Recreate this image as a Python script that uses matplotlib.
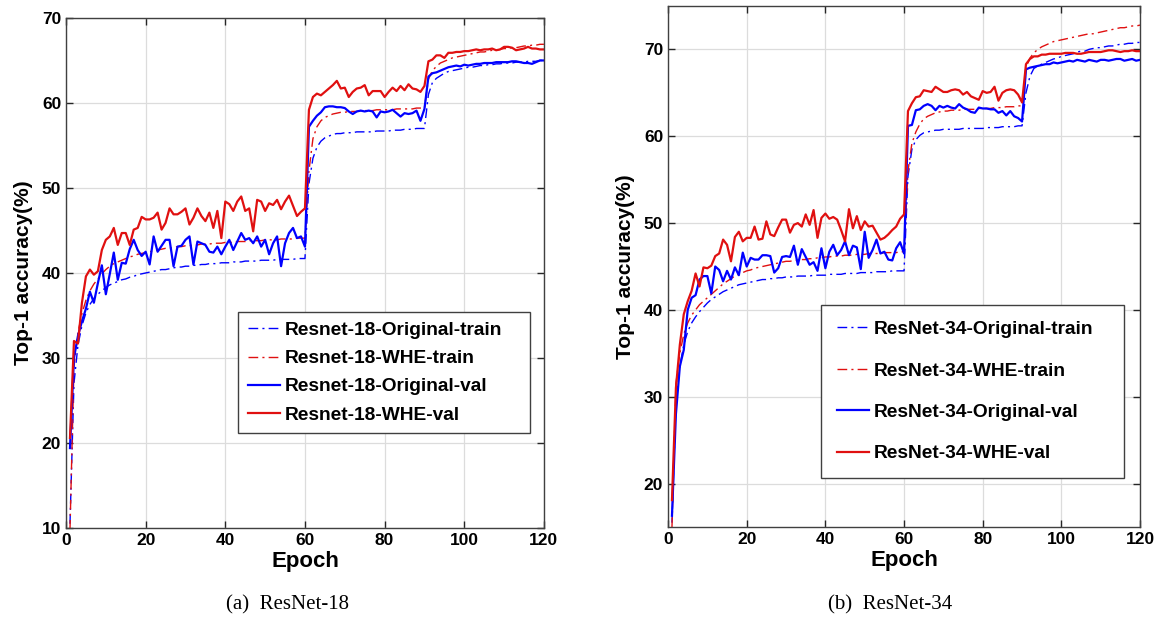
import matplotlib
matplotlib.use("Agg")
from matplotlib import pyplot as plt
import numpy as np

epochs = np.arange(1, 121)

# ---- ResNet-18 ----
r18_orig_train = [
    10.5, 27.0, 31.5, 33.8, 35.3, 36.3, 37.0, 37.5, 37.9, 38.3,
    38.6, 38.8, 39.0, 39.2, 39.3, 39.5, 39.6, 39.8, 39.9, 40.0,
    40.1, 40.2, 40.3, 40.4, 40.4, 40.5, 40.6, 40.7, 40.7, 40.8,
    40.8, 40.9, 40.9, 41.0, 41.0, 41.1, 41.1, 41.1, 41.2, 41.2,
    41.2, 41.3, 41.3, 41.3, 41.4, 41.4, 41.4, 41.4, 41.5, 41.5,
    41.5, 41.5, 41.6, 41.6, 41.6, 41.6, 41.6, 41.7, 41.7, 41.7,
    50.5, 53.5, 54.8, 55.5, 55.9, 56.1, 56.3, 56.4, 56.4, 56.5,
    56.5, 56.5, 56.6, 56.6, 56.6, 56.6, 56.6, 56.7, 56.7, 56.7,
    56.7, 56.8, 56.8, 56.8, 56.9, 56.9, 56.9, 57.0, 57.0, 57.0,
    61.0, 62.4, 62.9, 63.2, 63.5, 63.7, 63.8, 63.9, 64.0, 64.1,
    64.2, 64.2, 64.3, 64.4, 64.4, 64.5, 64.5, 64.6, 64.6, 64.7,
    64.7, 64.7, 64.8, 64.8, 64.8, 64.9, 64.9, 64.9, 65.0, 65.0]

r18_whe_train = [
    9.8, 29.0, 33.0, 35.2, 36.8, 37.9, 38.7, 39.3, 39.9, 40.4,
    40.8, 41.1, 41.3, 41.5, 41.7, 41.9, 42.0, 42.2, 42.3, 42.4,
    42.5, 42.6, 42.7, 42.8, 42.9, 42.9, 43.0, 43.1, 43.1, 43.2,
    43.2, 43.3, 43.3, 43.4, 43.4, 43.4, 43.5, 43.5, 43.5, 43.6,
    43.6, 43.6, 43.7, 43.7, 43.7, 43.8, 43.8, 43.8, 43.8, 43.9,
    43.9, 43.9, 43.9, 44.0, 44.0, 44.0, 44.0, 44.1, 44.1, 44.1,
    52.0, 55.8, 57.2, 57.9, 58.3, 58.5, 58.7, 58.8, 58.9, 58.9,
    59.0, 59.0, 59.0, 59.1, 59.1, 59.1, 59.1, 59.2, 59.2, 59.2,
    59.2, 59.2, 59.3, 59.3, 59.3, 59.3, 59.3, 59.4, 59.4, 59.4,
    62.8, 63.8, 64.3, 64.7, 64.9, 65.1, 65.3, 65.4, 65.5, 65.6,
    65.7, 65.8, 65.9, 66.0, 66.0, 66.1, 66.2, 66.2, 66.3, 66.4,
    66.4, 66.5, 66.5, 66.6, 66.7, 66.7, 66.8, 66.8, 66.9, 66.9]

r18_orig_val = [
    19.4, 30.0, 32.6, 34.3, 35.8, 37.8, 36.5, 38.8, 40.9, 37.5,
    39.9, 42.4, 39.2, 41.2, 41.1, 42.8, 43.9, 42.7, 42.0, 42.5,
    41.0, 44.3, 42.5, 43.2, 43.9, 43.9, 40.8, 43.1, 43.2, 43.9,
    44.3, 41.0, 43.7, 43.5, 43.3, 42.5, 42.4, 43.1, 42.2, 43.1,
    43.9, 42.7, 43.7, 44.7, 43.9, 44.1, 43.5, 44.3, 43.1, 43.9,
    42.2, 43.5, 44.3, 40.8, 43.5, 44.7, 45.3, 44.1, 44.3, 43.1,
    57.2, 57.9, 58.5, 58.9, 59.5, 59.6, 59.6, 59.5, 59.5, 59.4,
    59.0, 58.7, 59.0, 59.1, 59.0, 59.1, 59.0, 58.3, 59.0, 58.9,
    59.0, 59.2, 58.8, 58.4, 58.8, 58.7, 58.8, 59.1, 57.9, 59.3,
    63.1, 63.5, 63.6, 63.8, 64.0, 64.2, 64.3, 64.4, 64.3, 64.5,
    64.4, 64.5, 64.6, 64.6, 64.7, 64.7, 64.7, 64.8, 64.8, 64.8,
    64.8, 64.9, 64.9, 64.8, 64.7, 64.7, 64.6, 64.8, 65.0, 65.0]

r18_whe_val = [
    20.6, 32.0, 31.7, 36.5, 39.6, 40.4, 39.8, 40.2, 42.7, 43.9,
    44.3, 45.3, 43.3, 44.7, 44.7, 43.3, 45.1, 45.3, 46.6, 46.3,
    46.3, 46.5, 47.1, 45.1, 45.9, 47.6, 46.9, 46.9, 47.2, 47.6,
    45.7, 46.5, 47.6, 46.7, 46.1, 47.1, 45.3, 47.3, 44.1, 48.4,
    48.1, 47.3, 48.4, 49.0, 47.3, 47.6, 44.9, 48.6, 48.4, 47.3,
    48.2, 48.0, 48.6, 47.5, 48.4, 49.1, 47.9, 46.7, 47.2, 47.6,
    59.2, 60.7, 61.1, 60.9, 61.3, 61.7, 62.1, 62.6, 61.7, 61.8,
    60.7, 61.3, 61.7, 61.8, 62.1, 60.9, 61.4, 61.4, 61.4, 60.7,
    61.3, 61.8, 61.4, 62.0, 61.5, 62.2, 61.7, 61.6, 61.3, 62.0,
    64.9, 65.1, 65.6, 65.6, 65.3, 65.9, 65.9, 66.0, 66.0, 66.1,
    66.1, 66.2, 66.3, 66.2, 66.3, 66.3, 66.4, 66.2, 66.3, 66.6,
    66.6, 66.5, 66.2, 66.3, 66.4, 66.6, 66.4, 66.4, 66.3, 66.3]

# ---- ResNet-34 ----
r34_orig_train = [
    15.5, 29.2, 33.5, 36.0, 37.5, 38.5, 39.2, 39.8, 40.3, 40.8,
    41.2, 41.5, 41.8, 42.1, 42.3, 42.5, 42.7, 42.9, 43.0, 43.1,
    43.2, 43.3, 43.4, 43.5, 43.5, 43.6, 43.6, 43.7, 43.7, 43.8,
    43.8, 43.8, 43.9, 43.9, 43.9, 43.9, 44.0, 44.0, 44.0, 44.0,
    44.1, 44.1, 44.1, 44.1, 44.2, 44.2, 44.2, 44.2, 44.3, 44.3,
    44.3, 44.3, 44.4, 44.4, 44.4, 44.4, 44.5, 44.5, 44.5, 44.5,
    55.4, 58.5, 59.6, 60.1, 60.4, 60.5, 60.6, 60.7, 60.7, 60.8,
    60.8, 60.8, 60.8, 60.8, 60.9, 60.9, 60.9, 60.9, 60.9, 60.9,
    61.0, 61.0, 61.0, 61.0, 61.1, 61.1, 61.1, 61.1, 61.2, 61.2,
    65.0, 66.9, 67.8, 68.1, 68.3, 68.5, 68.7, 68.9, 69.0, 69.2,
    69.3, 69.4, 69.5, 69.7, 69.8, 69.8, 70.0, 70.1, 70.2, 70.2,
    70.3, 70.4, 70.4, 70.5, 70.6, 70.6, 70.7, 70.7, 70.8, 70.8]

r34_whe_train = [
    15.0, 31.5, 35.0, 37.2, 38.5, 39.4, 40.0, 40.6, 41.0, 41.4,
    41.8, 42.2, 42.6, 43.0, 43.3, 43.6, 43.9, 44.1, 44.3, 44.5,
    44.6, 44.8, 44.9, 45.0, 45.1, 45.2, 45.3, 45.4, 45.5, 45.6,
    45.6, 45.7, 45.7, 45.8, 45.8, 45.9, 45.9, 46.0, 46.0, 46.1,
    46.1, 46.2, 46.2, 46.2, 46.3, 46.3, 46.3, 46.4, 46.4, 46.4,
    46.5, 46.5, 46.5, 46.5, 46.6, 46.6, 46.6, 46.6, 46.7, 46.7,
    56.0, 59.2, 60.5, 61.4, 62.0, 62.3, 62.5, 62.7, 62.8, 62.9,
    62.9, 63.0, 63.0, 63.0, 63.1, 63.1, 63.1, 63.1, 63.2, 63.2,
    63.2, 63.2, 63.3, 63.3, 63.3, 63.4, 63.4, 63.4, 63.5, 63.5,
    67.9, 69.0, 69.6, 70.0, 70.3, 70.5, 70.7, 70.9, 71.0, 71.1,
    71.2, 71.3, 71.4, 71.5, 71.6, 71.7, 71.8, 71.8, 71.9, 72.0,
    72.1, 72.2, 72.3, 72.4, 72.5, 72.5, 72.6, 72.7, 72.7, 72.8]

r34_orig_val = [
    16.3, 28.0, 33.5, 35.4, 40.0, 41.4, 41.7, 43.5, 43.9, 43.9,
    41.9, 45.0, 44.6, 43.3, 44.5, 43.5, 44.9, 44.0, 46.6, 45.0,
    46.0, 45.8, 45.8, 46.3, 46.3, 46.2, 44.3, 44.8, 46.1, 46.2,
    46.1, 47.4, 45.2, 47.0, 46.1, 45.2, 45.5, 44.5, 47.1, 44.8,
    46.7, 47.5, 46.3, 46.9, 47.9, 46.3, 47.4, 47.2, 44.7, 49.0,
    46.0, 46.9, 48.1, 46.5, 46.7, 45.8, 45.7, 47.1, 47.8, 46.5,
    61.2, 61.3, 63.0, 63.1, 63.5, 63.7, 63.5, 63.0, 63.5, 63.3,
    63.5, 63.3, 63.2, 63.7, 63.3, 63.1, 62.8, 62.7, 63.3, 63.2,
    63.2, 63.1, 63.1, 62.7, 62.9, 62.4, 62.9, 62.3, 62.1, 61.7,
    67.7, 67.9, 68.0, 68.1, 68.2, 68.3, 68.3, 68.5, 68.4, 68.5,
    68.6, 68.7, 68.6, 68.8, 68.7, 68.6, 68.8, 68.7, 68.6, 68.8,
    68.8, 68.7, 68.8, 68.9, 68.9, 68.7, 68.8, 68.9, 68.7, 68.8]

r34_whe_val = [
    18.1, 31.0, 36.0, 39.5, 41.0, 42.2, 44.2, 42.7, 44.9, 44.8,
    45.1, 46.2, 46.5, 48.1, 47.5, 45.6, 48.4, 49.0, 47.9, 48.3,
    48.3, 49.6, 48.1, 48.2, 50.2, 48.7, 48.5, 49.5, 50.4, 50.4,
    48.9, 49.8, 50.0, 49.6, 51.0, 49.8, 51.5, 48.3, 50.6, 51.1,
    50.5, 50.7, 50.4, 49.2, 47.9, 51.6, 49.4, 50.8, 49.2, 50.2,
    49.6, 49.7, 48.9, 48.1, 48.3, 48.7, 49.2, 49.6, 50.5, 51.0,
    62.9, 63.8, 64.5, 64.6, 65.3, 65.2, 65.1, 65.7, 65.4, 65.1,
    65.1, 65.3, 65.4, 65.3, 64.8, 65.1, 64.6, 64.4, 64.2, 65.2,
    65.0, 65.1, 65.7, 64.1, 65.0, 65.3, 65.4, 65.3, 64.8, 63.9,
    68.3, 68.9, 69.2, 69.2, 69.4, 69.4, 69.5, 69.5, 69.5, 69.5,
    69.6, 69.6, 69.6, 69.5, 69.5, 69.6, 69.7, 69.7, 69.7, 69.7,
    69.8, 69.9, 69.9, 69.8, 69.7, 69.8, 69.8, 69.9, 69.8, 69.8]

x_ticks = [0, 20, 40, 60, 80, 100, 120]
BLUE = "#0000FF"
RED = "#E01010"
DASHDOT = (0, (7, 3, 1.5, 3))
SANS = "Liberation Sans"


def draw(ax, name, orig_train, whe_train, orig_val, whe_val, ylim, yticks):
    ax.plot(epochs, orig_train, color=BLUE, lw=1.0, ls=DASHDOT, label=name + "-Original-train")
    ax.plot(epochs, whe_train, color=RED, lw=1.0, ls=DASHDOT, label=name + "-WHE-train")
    ax.plot(epochs, orig_val, color=BLUE, lw=1.6, label=name + "-Original-val")
    ax.plot(epochs, whe_val, color=RED, lw=1.6, label=name + "-WHE-val")

    ax.set_xlim(0, 120)
    ax.set_ylim(*ylim)
    ax.set_xticks(x_ticks)
    ax.set_yticks(yticks)
    ax.grid(True, color="#DCDCDC", lw=0.9)
    ax.set_axisbelow(True)
    ax.tick_params(direction="in", length=5, width=1, top=True, right=True,
                   colors="#262626", labelsize=12.5)
    for lab in ax.get_xticklabels() + ax.get_yticklabels():
        lab.set_fontfamily(SANS)
        lab.set_fontweight("bold")
        lab.set_color("black")
    for sp in ax.spines.values():
        sp.set_color("#404040")
        sp.set_linewidth(1.0)
    ax.set_xlabel("Epoch", fontsize=16, fontweight="bold", family=SANS, labelpad=2)
    ax.set_ylabel("Top-1 accuracy(%)", fontsize=15, fontweight="bold", family=SANS, labelpad=6)


fig = plt.figure(figsize=(11.6, 6.19), dpi=100)
ax1 = fig.add_axes([0.0569, 0.147, 0.412, 0.824])
ax2 = fig.add_axes([0.5759, 0.1486, 0.4069, 0.8417])

draw(ax1, "Resnet-18", r18_orig_train, r18_whe_train, r18_orig_val, r18_whe_val,
     (10, 70), [10, 20, 30, 40, 50, 60, 70])
draw(ax2, "ResNet-34", r34_orig_train, r34_whe_train, r34_orig_val, r34_whe_val,
     (15, 75), [20, 30, 40, 50, 60, 70])

leg_font = {"family": SANS, "weight": "bold", "size": 13.8}
l1 = ax1.legend(loc="lower left", bbox_to_anchor=(0.36, 0.186, 0.611, 0.234),
                mode="expand", prop=leg_font,
                fancybox=False, framealpha=1, edgecolor="#404040",
                handlelength=1.7, handletextpad=0.25, labelspacing=0.56,
                borderpad=0.5, borderaxespad=0)
l1.get_frame().set_linewidth(1.0)
l2 = ax2.legend(loc="lower left", bbox_to_anchor=(0.324, 0.094, 0.642, 0.330),
                mode="expand", prop=leg_font,
                fancybox=False, framealpha=1, edgecolor="#404040",
                handlelength=1.7, handletextpad=0.25, labelspacing=1.25,
                borderpad=0.82, borderaxespad=0)
l2.get_frame().set_linewidth(1.0)

fig.text(287 / 1160, 1 - 605 / 619, "(a)  ResNet-18", ha="center", va="center",
         family="Liberation Serif", fontsize=15)
fig.text(890 / 1160, 1 - 605 / 619, "(b)  ResNet-34", ha="center", va="center",
         family="Liberation Serif", fontsize=15)

fig.savefig("out.png", dpi=100)
